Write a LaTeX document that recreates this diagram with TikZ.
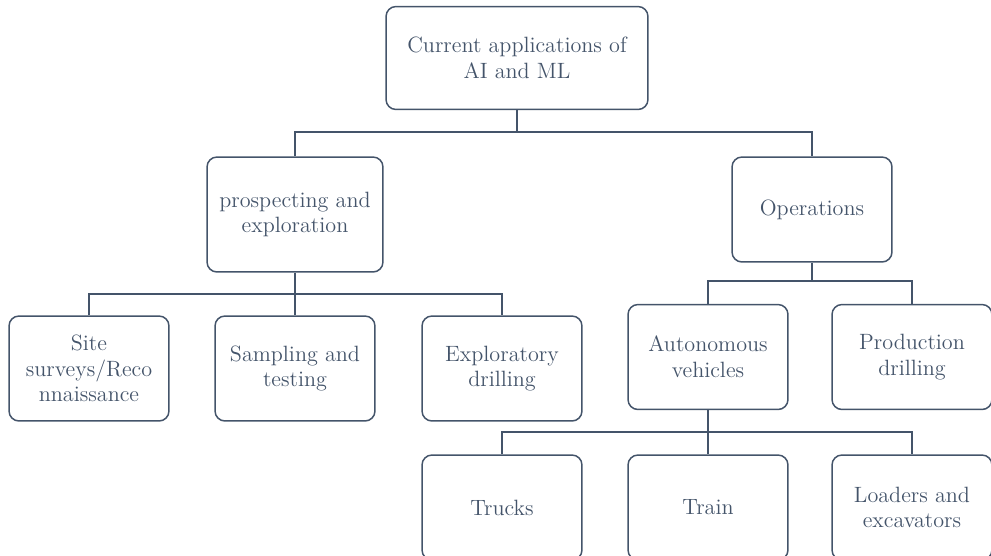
\documentclass[tikz,border=0pt]{standalone}
\usepackage{tikz}
\usetikzlibrary{positioning}
\definecolor{slate}{HTML}{44546A}

\begin{document}
\begin{tikzpicture}[x=0.02cm, y=-0.02cm, font=\fontsize{12.6}{14.6}\selectfont,
    line width=0.03cm, draw=slate,
    box/.style={draw=slate, rectangle, rounded corners=0.2cm, minimum width=3.2cm, minimum height=2.1cm, text=slate, align=center, inner sep=2pt},
    bus/.style={draw=slate, line width=0.03cm}]
    \clip (0,0) rectangle (991,555);
    \useasboundingbox (0,0) rectangle (991,555);
    \node[box, minimum width=5.24cm, minimum height=2.06cm] (root) at (517,58) {Current applications of\\AI and ML};
    \node[box, minimum width=3.52cm, minimum height=2.3cm] (prosp) at (295,214.5) {prospecting and\\exploration};
    \node[box] (oper) at (812,209.5) {Operations};
    \node[box] (site) at (89,368.5) {Site\\surveys/Reco\\nnaissance};
    \node[box] (samp) at (295,368.5) {Sampling and\\testing};
    \node[box] (expl) at (502,368.5) {Exploratory\\drilling};
    \node[box] (auto) at (708,357) {Autonomous\\vehicles};
    \node[box] (prod) at (912,357) {Production\\drilling};
    \node[box] (trucks) at (502,507.5) {Trucks};
    \node[box] (train) at (708,507.5) {Train};
    \node[box] (load) at (912,507.5) {Loaders and\\excavators};
    % bus lines of the tree
    \coordinate (b1) at (517,132);
    \coordinate (b2) at (295,294);
    \coordinate (b3) at (812,281);
    \coordinate (b4) at (708,432);
    \draw[bus] (root.south) -- (b1);
    \draw[bus] (prosp.north) |- (b1) -| (oper.north);
    \draw[bus] (prosp.south) -- (samp.north);
    \draw[bus] (site.north) |- (b2) -| (expl.north);
    \draw[bus] (oper.south) -- (b3);
    \draw[bus] (auto.north) |- (b3) -| (prod.north);
    \draw[bus] (auto.south) -- (train.north);
    \draw[bus] (trucks.north) |- (b4) -| (load.north);
\end{tikzpicture}
\end{document}
